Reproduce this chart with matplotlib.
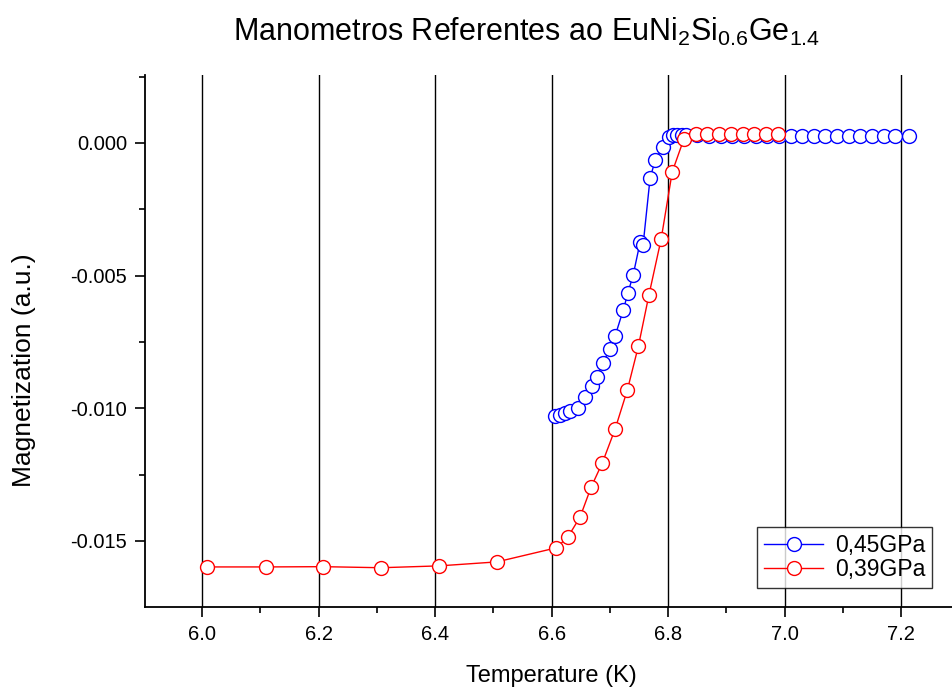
import matplotlib
matplotlib.use("Agg")
import matplotlib.pyplot as plt
from matplotlib.ticker import MultipleLocator, FormatStrFormatter

plt.rcParams['font.family'] = ['Liberation Sans', 'DejaVu Sans']
plt.rcParams['mathtext.fontset'] = 'custom'
plt.rcParams['mathtext.rm'] = 'Liberation Sans'
plt.rcParams['mathtext.default'] = 'regular'

# 0,45 GPa
temp_045 = [6.606, 6.615, 6.623, 6.632, 6.645, 6.657, 6.670, 6.678, 6.688, 6.700,
            6.709, 6.723, 6.731, 6.740, 6.752, 6.757, 6.769, 6.778, 6.791, 6.802,
            6.809, 6.816, 6.823, 6.830, 6.850, 6.870, 6.890, 6.910, 6.930, 6.950,
            6.970, 6.990, 7.010, 7.030, 7.050, 7.070, 7.090, 7.110, 7.130, 7.150,
            7.170, 7.190, 7.214]
mag_045 = [-0.01029, -0.01025, -0.01017, -0.01010, -0.00998, -0.00957, -0.00916,
           -0.00882, -0.00829, -0.00776, -0.00727, -0.00629, -0.00565, -0.00497,
           -0.00373, -0.00384, -0.00132, -0.00064, -0.00015, 0.00023,
           0.00028, 0.00029, 0.00029, 0.00028, 0.00028, 0.00027, 0.00027, 0.00027,
           0.00027, 0.00027, 0.00027, 0.00026, 0.00026, 0.00026, 0.00026, 0.00026,
           0.00026, 0.00026, 0.00026, 0.00026, 0.00026, 0.00026, 0.00026]

# 0,39 GPa
temp_039 = [6.009, 6.110, 6.208, 6.307, 6.407, 6.506, 6.608, 6.628, 6.649, 6.668,
            6.687, 6.709, 6.730, 6.749, 6.767, 6.788, 6.807, 6.827, 6.848, 6.867,
            6.888, 6.908, 6.929, 6.948, 6.968, 6.989]
mag_039 = [-0.01598, -0.01598, -0.01597, -0.01601, -0.01594, -0.01579, -0.01526,
           -0.01485, -0.01409, -0.01296, -0.01206, -0.01078, -0.00931, -0.00765,
           -0.00573, -0.00362, -0.00109, 0.00015, 0.00034, 0.00034, 0.00034,
           0.00034, 0.00034, 0.00034, 0.00034, 0.00034]

labels = ['0,45GPa', '0,39GPa']
colors = ['#0000ff', '#ff0000']


def main():
    fig = plt.figure(figsize=(9.52, 6.89), dpi=100)
    # right edge of the axes is outside the figure, as in the reference
    ax = fig.add_axes([145 / 952, 1 - 607 / 689, 843 / 952, 532 / 689])

    for x, y, lab, c in zip([temp_045, temp_039], [mag_045, mag_039], labels, colors):
        ax.plot(x, y, color=c, lw=1.0, marker='o', ms=10, mfc='white',
                mec=c, mew=1.0, label=lab)

    ax.set_xlim(5.902, 7.349)
    ax.set_ylim(-0.01749, 0.00256)

    ax.xaxis.set_major_locator(MultipleLocator(0.2))
    ax.xaxis.set_minor_locator(MultipleLocator(0.1))
    ax.yaxis.set_major_locator(MultipleLocator(0.005))
    ax.yaxis.set_minor_locator(MultipleLocator(0.0025))
    ax.xaxis.set_major_formatter(FormatStrFormatter('%.1f'))
    ax.yaxis.set_major_formatter(FormatStrFormatter('%.3f'))

    ax.tick_params(which='major', direction='out', length=7, width=1.2,
                   labelsize=14.5, pad=6)
    ax.tick_params(which='minor', direction='out', length=4.5, width=1.2)
    for side in ['top', 'right']:
        ax.spines[side].set_visible(False)
    for side in ['left', 'bottom']:
        ax.spines[side].set_linewidth(1.3)

    ax.grid(True, axis='x', which='major', color='black', lw=1.0)
    ax.set_axisbelow(True)

    fig.text(0.553, 1 - 32 / 689,
             r'Manometros Referentes ao EuNi$_2$Si$_{0.6}$Ge$_{1.4}$',
             ha='center', va='center', fontsize=22)
    fig.text(0.579, 1 - 676 / 689, 'Temperature (K)', ha='center', va='center',
             fontsize=17)
    fig.text(24 / 952, 1 - 370 / 689, 'Magnetization (a.u.)', rotation=90,
             ha='center', va='center', fontsize=19)

    leg = ax.legend(loc='upper left', bbox_to_anchor=(757 / 952, 1 - 527 / 689),
                    bbox_transform=fig.transFigure, fontsize=16.5, frameon=True,
                    fancybox=False, borderpad=0.3, labelspacing=0.05,
                    handlelength=2.6, handletextpad=0.5, borderaxespad=0)
    leg.get_frame().set_edgecolor('black')
    leg.get_frame().set_linewidth(1.0)

    fig.savefig('out.png', dpi=100)
    plt.close(fig)


if __name__ == "__main__":
    main()
